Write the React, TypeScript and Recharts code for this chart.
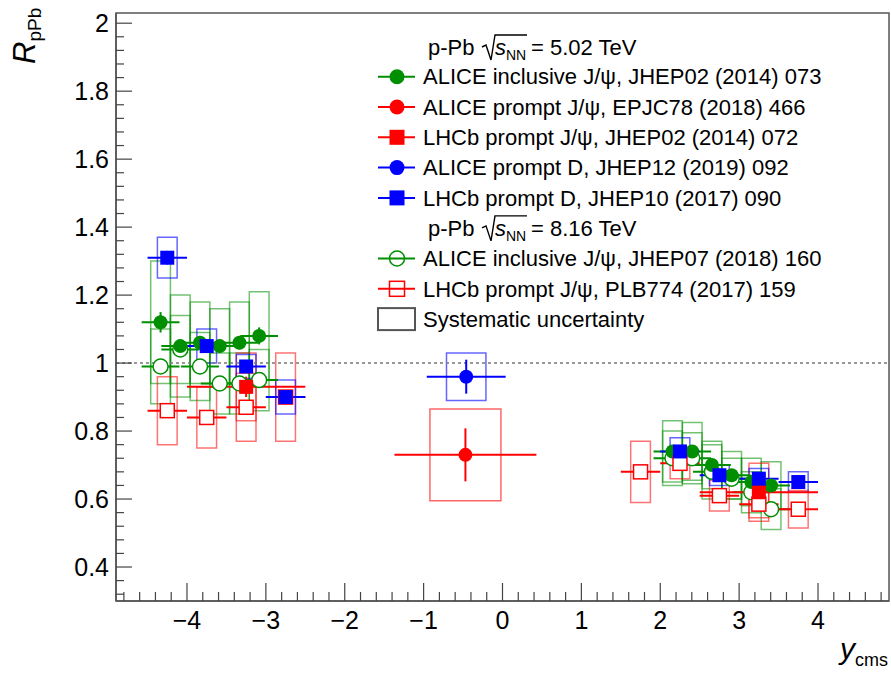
import React from 'react';
import { ComposedChart, Scatter, XAxis, YAxis, ErrorBar, ReferenceArea, ReferenceLine } from 'recharts';

// ---------------- data ----------------
// ALICE inclusive J/psi, p-Pb 5.02 TeV (JHEP02 (2014) 073)
const aliceInclY = [-4.335, -4.085, -3.835, -3.585, -3.335, -3.085, 2.155, 2.405, 2.655, 2.905, 3.155, 3.405];
const aliceInclR = [1.12, 1.05, 1.06, 1.05, 1.06, 1.08, 0.74, 0.74, 0.70, 0.67, 0.65, 0.64];
const aliceInclStat = [0.03, 0.02, 0.02, 0.02, 0.02, 0.025, 0.01, 0.01, 0.01, 0.01, 0.01, 0.01];
const aliceInclSyst = [0.18, 0.15, 0.12, 0.11, 0.12, 0.13, 0.09, 0.085, 0.07, 0.07, 0.07, 0.07];

// ALICE prompt J/psi, 5.02 TeV (EPJC78 (2018) 466)
const alicePromptJpsiY = [-0.47];
const alicePromptJpsiR = [0.73];
const alicePromptJpsiStat = [0.078];
const alicePromptJpsiSyst = [0.135];

// LHCb prompt J/psi, 5.02 TeV (JHEP02 (2014) 072)
const lhcbJpsi5Y = [-3.25, 3.25];
const lhcbJpsi5R = [0.93, 0.62];
const lhcbJpsi5Stat = [0.03, 0.01];
const lhcbJpsi5Syst = [0.10, 0.085];

// ALICE prompt D, 5.02 TeV (JHEP12 (2019) 092)
const aliceDY = [-0.46];
const aliceDR = [0.96];
const aliceDStat = [0.05];
const aliceDSyst = [0.07];

// LHCb prompt D, 5.02 TeV (JHEP10 (2017) 090)
const lhcbDY = [-4.25, -3.75, -3.25, -2.75, 2.25, 2.75, 3.25, 3.75];
const lhcbDR = [1.31, 1.05, 0.99, 0.90, 0.74, 0.67, 0.66, 0.65];
const lhcbDStat = [0.02, 0.02, 0.01, 0.01, 0.01, 0.01, 0.01, 0.01];
const lhcbDSyst = [0.06, 0.05, 0.035, 0.05, 0.04, 0.03, 0.03, 0.03];

// ALICE inclusive J/psi, 8.16 TeV (JHEP07 (2018) 160)
const aliceIncl8Y = [-4.335, -4.085, -3.835, -3.585, -3.335, -3.085, 2.155, 2.405, 2.655, 2.905, 3.155, 3.405];
const aliceIncl8R = [0.99, 1.04, 0.99, 0.94, 0.94, 0.95, 0.72, 0.72, 0.68, 0.66, 0.62, 0.57];
const aliceIncl8Stat = [0.01, 0.01, 0.01, 0.01, 0.01, 0.01, 0.01, 0.01, 0.01, 0.01, 0.01, 0.01];
const aliceIncl8Syst = [0.11, 0.10, 0.10, 0.09, 0.09, 0.09, 0.08, 0.075, 0.08, 0.06, 0.06, 0.06];

// LHCb prompt J/psi, 8.16 TeV (PLB774 (2017) 159)
const lhcbJpsi8Y = [-4.25, -3.75, -3.25, -2.75, 1.75, 2.25, 2.75, 3.25, 3.75];
const lhcbJpsi8R = [0.86, 0.84, 0.87, 0.90, 0.68, 0.705, 0.61, 0.585, 0.57];
const lhcbJpsi8Stat = [0.02, 0.02, 0.02, 0.02, 0.01, 0.01, 0.01, 0.01, 0.01];
const lhcbJpsi8Syst = [0.10, 0.09, 0.10, 0.13, 0.09, 0.045, 0.045, 0.04, 0.055];

// bin half-widths (error bar) and syst box half-widths, in rapidity units
const aliceInclHalfBin = 0.24;
const aliceInclBoxHalf = 0.125;
const alicePromptJpsiHalfBin = 0.9;
const alicePromptJpsiBoxHalf = 0.45;
const lhcbJpsi5HalfBin = 0.75;
const lhcbJpsi5BoxHalf = 0.125;
const aliceDHalfBin = 0.5;
const aliceDBoxHalf = 0.25;
const lhcbHalfBin = 0.25;
const lhcbBoxHalf = 0.125;

// axis ticks
const xMajorTicks = [-4, -3, -2, -1, 0, 1, 2, 3, 4];
const xAllTicks = Array.from({ length: 49 }, (_, i) => Math.round((-4.8 + i * 0.2) * 10) / 10);
const yMajorTicks = [0.4, 0.6, 0.8, 1, 1.2, 1.4, 1.6, 1.8, 2];
const yAllTicks = Array.from({ length: 43 }, (_, i) => Math.round((0.32 + i * 0.04) * 100) / 100);

// ---------------- helpers ----------------
type Pt = { x: number; y: number; ex: number; ey: number; sys: number; bw: number };
const mk = (xs: number[], rs: number[], st: number[], sy: number[], ex: number, bw: number): Pt[] =>
  xs.map((x, i) => ({ x, y: rs[i], ex, ey: st[i], sys: sy[i], bw }));

const sAliceIncl = mk(aliceInclY, aliceInclR, aliceInclStat, aliceInclSyst, aliceInclHalfBin, aliceInclBoxHalf);
const sAlicePJ = mk(alicePromptJpsiY, alicePromptJpsiR, alicePromptJpsiStat, alicePromptJpsiSyst, alicePromptJpsiHalfBin, alicePromptJpsiBoxHalf);
const sLhcbJ5 = mk(lhcbJpsi5Y, lhcbJpsi5R, lhcbJpsi5Stat, lhcbJpsi5Syst, lhcbJpsi5HalfBin, lhcbJpsi5BoxHalf);
const sAliceD = mk(aliceDY, aliceDR, aliceDStat, aliceDSyst, aliceDHalfBin, aliceDBoxHalf);
const sLhcbD = mk(lhcbDY, lhcbDR, lhcbDStat, lhcbDSyst, lhcbHalfBin, lhcbBoxHalf);
const sAliceIncl8 = mk(aliceIncl8Y, aliceIncl8R, aliceIncl8Stat, aliceIncl8Syst, aliceInclHalfBin, aliceInclBoxHalf);
const sLhcbJ8 = mk(lhcbJpsi8Y, lhcbJpsi8R, lhcbJpsi8Stat, lhcbJpsi8Syst, lhcbHalfBin, lhcbBoxHalf);

const GREEN = '#008f00';
const RED = '#ff0000';
const BLUE = '#0000ff';
const FONT = '"Liberation Sans", Arial, Helvetica, sans-serif';
const TICK_FONT = 25;

const filledCircle = (color: string, r: number) => (p: any) =>
  <circle cx={p.cx} cy={p.cy} r={r} fill={color} />;
const filledSquare = (color: string, s: number) => (p: any) =>
  <rect x={p.cx - s / 2} y={p.cy - s / 2} width={s} height={s} fill={color} />;
const openCircle = (color: string, r: number) => (p: any) =>
  <circle cx={p.cx} cy={p.cy} r={r} fill="#fff" stroke={color} strokeWidth={1.5} />;
const openSquare = (color: string, s: number) => (p: any) =>
  <rect x={p.cx - s / 2} y={p.cy - s / 2} width={s} height={s} fill="#fff" stroke={color} strokeWidth={1.5} />;

const boxes = (pts: Pt[], color: string, key: string, op: number) =>
  pts.map((p, i) => (
    <ReferenceArea
      key={key + i}
      x1={p.x - p.bw}
      x2={p.x + p.bw}
      y1={p.y - p.sys}
      y2={p.y + p.sys}
      fill="none"
      stroke={color}
      strokeOpacity={op}
      strokeWidth={1.5}
      ifOverflow="visible"
    />
  ));

const XTick = (props: any) => {
  const { x, y, payload } = props;
  const v = payload.value as number;
  const major = xMajorTicks.some((t) => Math.abs(t - v) < 1e-6);
  const label = v < 0 ? '\u2212' + Math.abs(v) : String(v);
  return (
    <g>
      <line x1={x} x2={x} y1={y} y2={y - (major ? 18 : 9)} stroke="#444" strokeWidth={1.2} />
      {major && (
        <text x={x} y={y + 28} textAnchor="middle" fontSize={TICK_FONT} fontFamily={FONT} fill="#000">
          {label}
        </text>
      )}
    </g>
  );
};

const YTick = (props: any) => {
  const { x, y, payload } = props;
  const v = payload.value as number;
  const major = yMajorTicks.some((t) => Math.abs(t - v) < 1e-6);
  return (
    <g>
      <line x1={x} x2={x + (major ? 16 : 8)} y1={y} y2={y} stroke="#444" strokeWidth={1.2} />
      {major && (
        <text x={x - 7} y={y + 9} textAnchor="end" fontSize={TICK_FONT} fontFamily={FONT} fill="#000">
          {String(v)}
        </text>
      )}
    </g>
  );
};

// ---------------- legend ----------------
const legendRows = [
  { label: 'ALICE inclusive J/\u03c8, JHEP02 (2014) 073', color: GREEN, marker: 'fc' },
  { label: 'ALICE prompt J/\u03c8, EPJC78 (2018) 466', color: RED, marker: 'fc' },
  { label: 'LHCb prompt J/\u03c8, JHEP02 (2014) 072', color: RED, marker: 'fs' },
  { label: 'ALICE prompt D, JHEP12 (2019) 092', color: BLUE, marker: 'fc' },
  { label: 'LHCb prompt D, JHEP10 (2017) 090', color: BLUE, marker: 'fs' },
];
const legendRows8 = [
  { label: 'ALICE inclusive J/\u03c8, JHEP07 (2018) 160', color: GREEN, marker: 'oc' },
  { label: 'LHCb prompt J/\u03c8, PLB774 (2017) 159', color: RED, marker: 'os' },
];
const energyHeaders = ['5.02', '8.16'];

const LegendMarker = ({ cy, color, marker }: { cy: number; color: string; marker: string }) => {
  const cx = 397;
  return (
    <g>
      <line x1={378} x2={415} y1={cy} y2={cy} stroke={color} strokeWidth={2} />
      {marker === 'fc' && <circle cx={cx} cy={cy} r={7.5} fill={color} />}
      {marker === 'fs' && <rect x={cx - 7.5} y={cy - 7.5} width={15} height={15} fill={color} />}
      {marker === 'oc' && <circle cx={cx} cy={cy} r={7.5} fill="none" stroke={color} strokeWidth={1.5} />}
      {marker === 'os' && <rect x={cx - 7.5} y={cy - 7.5} width={15} height={15} fill="none" stroke={color} strokeWidth={1.5} />}
    </g>
  );
};

const Header = ({ base, energy }: { base: number; energy: string }) => (
  <g>
    <text x={428} y={base} fontSize={22} fontFamily={FONT}>p-Pb</text>
    <path
      d={`M 482 ${base - 8} L 486 ${base - 10} L 491 ${base + 5} L 495 ${base - 20} L 527 ${base - 20}`}
      fill="none"
      stroke="#000"
      strokeWidth={1.4}
    />
    <text x={495} y={base} fontSize={22} fontFamily={FONT}>
      <tspan fontStyle="italic">s</tspan>
      <tspan fontSize={14} dy={5}>NN</tspan>
    </text>
    <text x={531} y={base} fontSize={22} fontFamily={FONT}>= {energy} TeV</text>
  </g>
);

const Overlay = () => {
  const rowH = 30.3;
  const c0 = 76.7;
  return (
    <svg width={891} height={675} style={{ position: 'absolute', left: 0, top: 0, pointerEvents: 'none' }}>
      {/* axis titles */}
      <text x={35} y={64} transform="rotate(-90, 35, 64)" fontFamily={FONT} fill="#000">
        <tspan fontStyle="italic" fontSize={31}>R</tspan>
        <tspan fontSize={19} dy={6}>pPb</tspan>
      </text>
      <text x={888} y={659} textAnchor="end" fontFamily={FONT} fill="#000">
        <tspan fontStyle="italic" fontSize={30}>y</tspan>
        <tspan fontSize={18} dy={7}>cms</tspan>
      </text>

      {/* legend */}
      <Header base={55} energy={energyHeaders[0]} />
      {legendRows.map((r, i) => {
        const cy = c0 + i * rowH;
        return (
          <g key={r.label}>
            <LegendMarker cy={cy} color={r.color} marker={r.marker} />
            <text x={423} y={cy + 7.7} fontSize={22} fontFamily={FONT}>{r.label}</text>
          </g>
        );
      })}
      <Header base={c0 + 5 * rowH + 7.7} energy={energyHeaders[1]} />
      {legendRows8.map((r, i) => {
        const cy = c0 + (6 + i) * rowH;
        return (
          <g key={r.label}>
            <LegendMarker cy={cy} color={r.color} marker={r.marker} />
            <text x={423} y={cy + 7.7} fontSize={22} fontFamily={FONT}>{r.label}</text>
          </g>
        );
      })}
      <rect x={378} y={c0 + 8 * rowH - 11} width={37} height={22} fill="none" stroke="#555" strokeWidth={2} />
      <text x={423} y={c0 + 8 * rowH + 7.7} fontSize={22} fontFamily={FONT}>Systematic uncertainty</text>
    </svg>
  );
};

export default function App() {
  return (
    <div style={{ position: 'absolute', left: 0, top: 0, width: 891, height: 675, background: '#fff' }}>
      <ComposedChart width={891} height={675} margin={{ top: 13, right: 2, bottom: 0, left: 0 }}>
        <XAxis
          dataKey="x"
          type="number"
          domain={[-4.9, 4.9]}
          allowDataOverflow
          ticks={xAllTicks}
          interval={0}
          tick={<XTick />}
          tickSize={0}
          tickMargin={0}
          tickLine={false}
          height={74}
          axisLine={{ stroke: '#555', strokeWidth: 1.5 }}
        />
        <YAxis
          dataKey="y"
          type="number"
          domain={[0.3, 2.03]}
          allowDataOverflow
          ticks={yAllTicks}
          interval={0}
          tick={<YTick />}
          tickSize={0}
          tickMargin={0}
          tickLine={false}
          width={116}
          axisLine={{ stroke: '#555', strokeWidth: 1.5 }}
        />
        {/* frame */}
        <ReferenceArea x1={-4.9} x2={4.9} y1={0.3} y2={2.03} fill="none" stroke="#555" strokeWidth={1.5} ifOverflow="visible" />
        <ReferenceLine y={1} stroke="#777" strokeWidth={1.5} strokeDasharray="3 3" />

        {boxes(sAliceIncl8, GREEN, 'ai8', 0.55)}
        {boxes(sAliceIncl, GREEN, 'ai5', 0.55)}
        {boxes(sLhcbJ8, RED, 'lj8', 0.55)}
        {boxes(sLhcbJ5, RED, 'lj5', 0.55)}
        {boxes(sAlicePJ, RED, 'apj', 0.6)}
        {boxes(sAliceD, BLUE, 'ad', 0.6)}
        {boxes(sLhcbD, BLUE, 'ld', 0.6)}

        <Scatter data={sAliceIncl8} dataKey="y" isAnimationActive={false} shape={openCircle(GREEN, 7.5)}>
          <ErrorBar dataKey="ex" direction="x" width={0} stroke={GREEN} strokeWidth={2} />
          <ErrorBar dataKey="ey" direction="y" width={0} stroke={GREEN} strokeWidth={2} />
        </Scatter>
        <Scatter data={sAliceIncl} dataKey="y" isAnimationActive={false} shape={filledCircle(GREEN, 7)}>
          <ErrorBar dataKey="ex" direction="x" width={0} stroke={GREEN} strokeWidth={2} />
          <ErrorBar dataKey="ey" direction="y" width={0} stroke={GREEN} strokeWidth={2} />
        </Scatter>
        <Scatter data={sLhcbJ8} dataKey="y" isAnimationActive={false} shape={openSquare(RED, 14)}>
          <ErrorBar dataKey="ex" direction="x" width={0} stroke={RED} strokeWidth={2} />
          <ErrorBar dataKey="ey" direction="y" width={0} stroke={RED} strokeWidth={2} />
        </Scatter>
        <Scatter data={sLhcbJ5} dataKey="y" isAnimationActive={false} shape={filledSquare(RED, 14)}>
          <ErrorBar dataKey="ex" direction="x" width={0} stroke={RED} strokeWidth={2} />
          <ErrorBar dataKey="ey" direction="y" width={0} stroke={RED} strokeWidth={2} />
        </Scatter>
        <Scatter data={sAlicePJ} dataKey="y" isAnimationActive={false} shape={filledCircle(RED, 7)}>
          <ErrorBar dataKey="ex" direction="x" width={0} stroke={RED} strokeWidth={2} />
          <ErrorBar dataKey="ey" direction="y" width={0} stroke={RED} strokeWidth={2} />
        </Scatter>
        <Scatter data={sAliceD} dataKey="y" isAnimationActive={false} shape={filledCircle(BLUE, 7)}>
          <ErrorBar dataKey="ex" direction="x" width={0} stroke={BLUE} strokeWidth={2} />
          <ErrorBar dataKey="ey" direction="y" width={0} stroke={BLUE} strokeWidth={2} />
        </Scatter>
        <Scatter data={sLhcbD} dataKey="y" isAnimationActive={false} shape={filledSquare(BLUE, 14)}>
          <ErrorBar dataKey="ex" direction="x" width={0} stroke={BLUE} strokeWidth={2} />
          <ErrorBar dataKey="ey" direction="y" width={0} stroke={BLUE} strokeWidth={2} />
        </Scatter>
      </ComposedChart>
      <Overlay />
    </div>
  );
}
